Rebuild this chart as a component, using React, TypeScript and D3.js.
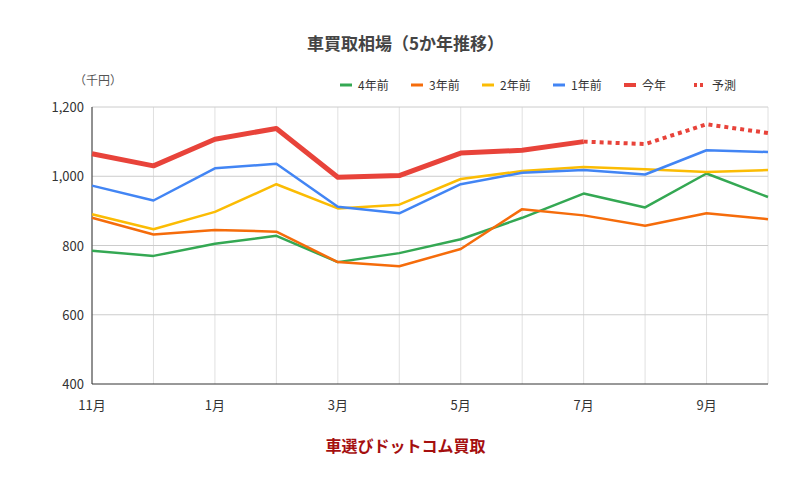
import React from "react";
import * as d3 from "d3";

const months = ["11月","12月","1月","2月","3月","4月","5月","6月","7月","8月","9月","10月"];
const yTicks = [400, 600, 800, 1000, 1200];
const y4 = [785, 770, 805, 828, 752, 778, 818, 880, 950, 910, 1008, 940];
const y3 = [880, 832, 845, 840, 752, 740, 790, 905, 887, 857, 893, 876];
const y2 = [890, 847, 897, 977, 907, 918, 992, 1015, 1027, 1020, 1012, 1018];
const y1 = [973, 930, 1023, 1036, 912, 893, 977, 1010, 1018, 1005, 1075, 1070];
const y0 = [1065, 1030, 1107, 1138, 997, 1002, 1067, 1075, 1100];
const forecast = [1100, 1093, 1150, 1125];
const forecastStart = 8;

const series = [
  { name: "4年前", color: "#34a853", data: y4, w: 2.5, off: 0, dash: "" },
  { name: "3年前", color: "#f56c0b", data: y3, w: 2.5, off: 0, dash: "" },
  { name: "2年前", color: "#fbbc04", data: y2, w: 2.5, off: 0, dash: "" },
  { name: "1年前", color: "#4285f4", data: y1, w: 2.5, off: 0, dash: "" },
  { name: "今年", color: "#e8433a", data: y0, w: 5, off: 0, dash: "" },
  { name: "予測", color: "#e8433a", data: forecast, w: 4, off: forecastStart, dash: "4,4" },
];

export default function App() {
  const W = 811, H = 478, L = 92, R = 768, T = 107, B = 384;
  const x = d3.scaleLinear().domain([0, 11]).range([L, R]);
  const y = d3.scaleLinear().domain([400, 1200]).range([B, T]);
  const font = "'Noto Sans CJK JP', Roboto, sans-serif";
  const legendX = [340, 411, 482, 553, 624, 694];
  return (
    <svg width={W} height={H} style={{ position: "absolute", left: 0, top: 0, fontFamily: font }}>
      <rect width={W} height={H} fill="#fff" />
      <text x={W / 2} y={50} textAnchor="middle" fontSize={17} fontWeight="bold" fill="#444">車買取相場（5か年推移）</text>
      <text x={74} y={85} fontSize={12} fill="#555">（千円）</text>
      {series.map((s, i) => (
        <g key={s.name}>
          <line x1={legendX[i]} x2={legendX[i] + 12} y1={85} y2={85} stroke={s.color} strokeWidth={s.w > 3 ? 4 : 3} strokeDasharray={s.dash ? "3,3" : ""} />
          <text x={legendX[i] + 18} y={89.5} fontSize={12} fill="#333">{s.name}</text>
        </g>
      ))}
      {months.map((m, i) => (
        <line key={m} x1={x(i)} x2={x(i)} y1={T} y2={B} stroke="#e0e0e0" />
      ))}
      {yTicks.map(t => (
        <g key={t}>
          <line x1={L} x2={R} y1={y(t)} y2={y(t)} stroke={t === 400 ? "#333" : "#ccc"} />
          <text x={L - 8} y={y(t) + 5} textAnchor="end" fontSize={13} fill="#333">{d3.format(",")(t)}</text>
        </g>
      ))}
      <line x1={L} x2={L} y1={T} y2={B} stroke="#333" />
      {months.map((m, i) => i % 2 === 0 ? (
        <text key={m} x={x(i)} y={B + 26} textAnchor="middle" fontSize={13} fill="#333">{m}</text>
      ) : null)}
      {series.map(s => {
        const line = d3.line<number>().x((_, i) => x(i + s.off)).y(d => y(d));
        return <path key={s.name} d={line(s.data) || ""} fill="none" stroke={s.color} strokeWidth={s.w} strokeDasharray={s.dash} strokeLinejoin="round" />;
      })}
      <text x={W / 2} y={452} textAnchor="middle" fontSize={16} fontWeight="bold" fill="#a50f0f">車選びドットコム買取</text>
    </svg>
  );
}
